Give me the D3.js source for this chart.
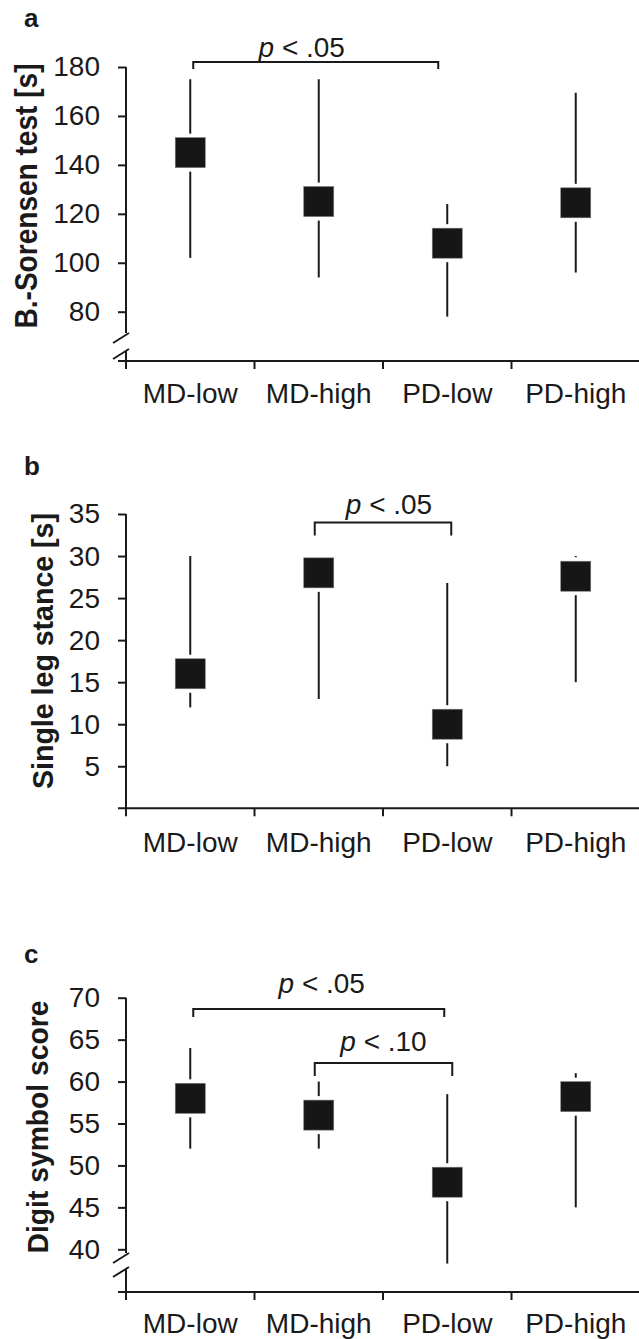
<!DOCTYPE html>
<html>
<head>
<meta charset="utf-8">
<script src="https://cdn.jsdelivr.net/npm/d3@7"></script>
<style>
  body { margin: 0; background: #fff; }
  svg { display: block; font-family: "Liberation Sans", Arial, sans-serif; }
  .axis line, .axis path { stroke: #1a1a1a; }
</style>
</head>
<body>
<div id="chart"></div>
<script>
const w = 639;
const h = 1339;

const groups = ["MD-low", "MD-high", "PD-low", "PD-high"];

// panel a: Balance-Sorensen test
const sorensenMean = [145, 125, 108, 124.5];
const sorensenLow = [102, 94, 78, 96];
const sorensenHigh = [175, 175, 124, 169.5];
const sorensenTicks = [80, 100, 120, 140, 160, 180];

// panel b: single leg stance
const stanceMean = [16, 28, 10, 27.6];
const stanceLow = [12, 13, 5, 15];
const stanceHigh = [30, 30, 26.8, 30];
const stanceTicks = [5, 10, 15, 20, 25, 30, 35];

// panel c: digit symbol
const digitMean = [58, 56, 48, 58.2];
const digitLow = [52, 52, 38.3, 45];
const digitHigh = [64, 60, 58.5, 61];
const digitTicks = [40, 45, 50, 55, 60, 65, 70];

const sorensenBrackets = [{from: "MD-low", to: "PD-low", at: 182, p: "< .05"}];
const stanceBrackets = [{from: "MD-high", to: "PD-low", at: 34, p: "< .05"}];
const digitBrackets = [
  {from: "MD-low", to: "PD-low", at: 68.65, p: "< .05"},
  {from: "MD-high", to: "PD-low", at: 62.2, p: "< .10"}
];

// pixel layout for each panel (not data)
const panels = [
  {letter: "a", letterY: 27, title: "B.-Sorensen test [s]", titleSize: 31, titleLen: 265, titleX: 37, titleY: 196,
   mean: sorensenMean, low: sorensenLow, high: sorensenHigh, ticks: sorensenTicks,
   domain: [80, 180], range: [311.7, 67], breakY: 333, breakGap: 16, xAxisY: 361, labelY: 403,
   brackets: sorensenBrackets,
   nudge: [{l: 3, r: -9, drop: 7, gap: 5, dx: -14}]},
  {letter: "b", letterY: 475, title: "Single leg stance [s]", titleSize: 29, titleLen: 276, titleX: 53, titleY: 651,
   mean: stanceMean, low: stanceLow, high: stanceHigh, ticks: stanceTicks,
   domain: [0, 35], range: [808.3, 514], breakY: null, xAxisY: 808.3, labelY: 852,
   brackets: stanceBrackets,
   nudge: [{l: -4, r: 4, drop: 13, gap: 8, dx: 6}]},
  {letter: "c", letterY: 963, title: "Digit symbol score", titleSize: 29, titleLen: 253, titleX: 48, titleY: 1127,
   mean: digitMean, low: digitLow, high: digitHigh, ticks: digitTicks,
   domain: [40, 70], range: [1249.3, 997.7], breakY: 1253, breakGap: 14, xAxisY: 1292, labelY: 1333,
   brackets: digitBrackets,
   nudge: [{l: 3, r: -3, drop: 8, gap: 16, dx: 3}, {l: -4, r: 5, drop: 13, gap: 12, dx: 0}]}
];

const axisX = 126;
const ink = "#1a1a1a";
const box = 30;
const pad = 4;

const svg = d3.select("#chart").append("svg")
  .attr("width", w).attr("height", h)
  .attr("viewBox", "0 0 " + w + " " + h);

const x = d3.scaleBand().domain(groups).range([axisX, 640]).paddingInner(0).paddingOuter(0);
const cx = (g) => x(g) + x.bandwidth() / 2;

panels.forEach((p) => {
  const g = svg.append("g");
  const y = d3.scaleLinear().domain(p.domain).range(p.range);

  // panel letter
  g.append("text").attr("x", 24).attr("y", p.letterY)
    .attr("font-size", 26).attr("font-weight", "bold").attr("fill", ink)
    .text(p.letter);

  // y title
  const title = g.append("text")
    .attr("transform", `translate(${p.titleX},${p.titleY}) rotate(-90)`)
    .attr("text-anchor", "middle")
    .attr("font-size", p.titleSize).attr("font-weight", "bold").attr("fill", ink)
    .text(p.title);
  if (p.titleLen) title.attr("textLength", p.titleLen).attr("lengthAdjust", "spacingAndGlyphs");

  // y axis ticks + labels
  const yAxis = g.append("g").attr("class", "axis")
    .attr("transform", `translate(${axisX},0)`)
    .call(d3.axisLeft(y).tickValues(p.ticks).tickSize(8).tickPadding(18).tickFormat(d3.format("d")));
  yAxis.select(".domain").remove();
  yAxis.selectAll(".tick line").attr("stroke-width", 2);
  yAxis.selectAll(".tick text").attr("font-size", 28).attr("fill", ink)
    .attr("font-family", "Liberation Sans, Arial, sans-serif");

  // y axis line with optional break
  const top = y(p.domain[1]);
  if (p.breakY === null) {
    g.append("line").attr("x1", axisX).attr("x2", axisX).attr("y1", top).attr("y2", p.xAxisY)
      .attr("stroke", ink).attr("stroke-width", 2);
  } else {
    g.append("line").attr("x1", axisX).attr("x2", axisX).attr("y1", top).attr("y2", p.breakY)
      .attr("stroke", ink).attr("stroke-width", 2);
    [0, p.breakGap].forEach((off) => {
      g.append("line")
        .attr("x1", axisX - 13).attr("y1", p.breakY + off + 10)
        .attr("x2", axisX + 3).attr("y2", p.breakY + off)
        .attr("stroke", ink).attr("stroke-width", 2);
    });
    g.append("line").attr("x1", axisX).attr("x2", axisX)
      .attr("y1", p.breakY + p.breakGap + 2).attr("y2", p.xAxisY)
      .attr("stroke", ink).attr("stroke-width", 2);
  }

  // x axis
  g.append("line").attr("x1", axisX - 8).attr("x2", w).attr("y1", p.xAxisY).attr("y2", p.xAxisY)
    .attr("stroke", ink).attr("stroke-width", 2);
  g.selectAll(".xtick").data(groups).enter().append("line")
    .attr("x1", (d) => x(d)).attr("x2", (d) => x(d))
    .attr("y1", p.xAxisY).attr("y2", p.xAxisY + 8)
    .attr("stroke", ink).attr("stroke-width", 2);
  g.selectAll(".xlabel").data(groups).enter().append("text")
    .attr("x", (d) => cx(d)).attr("y", p.labelY)
    .attr("text-anchor", "middle").attr("font-size", 28).attr("fill", ink)
    .text((d) => d);

  // error lines
  g.selectAll(".err").data(groups).enter().append("line")
    .attr("x1", (d) => cx(d)).attr("x2", (d) => cx(d))
    .attr("y1", (d, i) => y(p.high[i])).attr("y2", (d, i) => y(p.low[i]))
    .attr("stroke", ink).attr("stroke-width", 2);

  // white halo then square marker
  g.selectAll(".halo").data(groups).enter().append("rect")
    .attr("x", (d) => cx(d) - box / 2 - pad).attr("y", (d, i) => y(p.mean[i]) - box / 2 - pad)
    .attr("width", box + 2 * pad).attr("height", box + 2 * pad)
    .attr("fill", "#fff");
  g.selectAll(".mark").data(groups).enter().append("rect")
    .attr("x", (d) => cx(d) - box / 2).attr("y", (d, i) => y(p.mean[i]) - box / 2)
    .attr("width", box).attr("height", box)
    .attr("fill", "#161616").attr("stroke", "#777").attr("stroke-width", 0.6);

  // significance brackets
  p.brackets.forEach((b, i) => {
    const n = p.nudge[i];
    const x1 = cx(b.from) + n.l;
    const x2 = cx(b.to) + n.r;
    const by = y(b.at);
    g.append("path")
      .attr("d", `M${x1},${by + n.drop}V${by}H${x2}V${by + n.drop}`)
      .attr("fill", "none").attr("stroke", ink).attr("stroke-width", 2);
    const t = g.append("text")
      .attr("x", (x1 + x2) / 2 + n.dx).attr("y", by - n.gap)
      .attr("text-anchor", "middle").attr("font-size", 28).attr("fill", ink);
    t.append("tspan").attr("font-style", "italic").text("p");
    t.append("tspan").text(" " + b.p);
  });
});
</script>
</body>
</html>
